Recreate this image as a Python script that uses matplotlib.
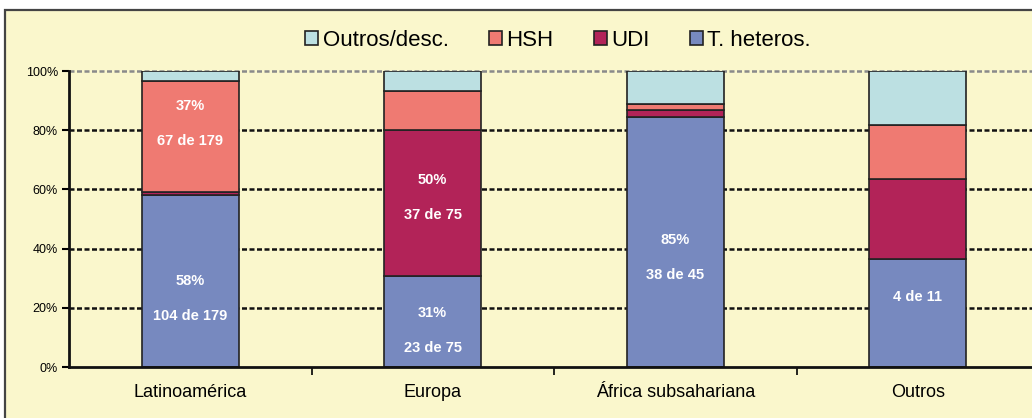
import matplotlib
matplotlib.use('Agg')
from matplotlib import pyplot as plt
from matplotlib import font_manager
from matplotlib.patches import Rectangle
import numpy as np

# Data (counts per region, from the labels in the chart)
regions = ['Latinoamérica', 'Europa', 'África subsahariana', 'Outros']
totals = [179, 75, 45, 11]
hetero = [104, 23, 38, 4]
udi = [2, 37, 1, 3]
hsh = [67, 10, 1, 2]
outros_desc = [6, 5, 5, 2]

series_names = ['T. heteros.', 'UDI', 'HSH', 'Outros/desc.']
series_colors = ['#7789BF', '#B22358', '#EF7A72', '#BCE0E2']

# labels written inside the bars: (region index, lines)
bar_labels = [
    (0, ['58%', '104 de 179']),
    (0, ['37%', '67 de 179']),
    (1, ['31%', '23 de 75']),
    (1, ['50%', '37 de 75']),
    (2, ['85%', '38 de 45']),
    (3, ['4 de 11']),
]
# where those labels sit (in % units, centre of the text block)
label_y = [23.0, 82.3, 12.2, 57.4, 37.0, 23.6]

bg = '#FAF7CC'


def pick_font(names):
    have = set(f.name for f in font_manager.fontManager.ttflist)
    for n in names:
        if n in have:
            return n
    return 'DejaVu Sans'


narrow = pick_font(['Liberation Sans Narrow', 'Arial Narrow', 'Liberation Sans'])
plain = pick_font(['Liberation Sans', 'Arial'])
plt.rcParams['font.family'] = [narrow, 'DejaVu Sans']

fig = plt.figure(figsize=(10.32, 4.18), dpi=100)
fig.patch.set_facecolor('white')

# chart frame (cropped on the right and bottom)
frame = Rectangle((5 / 1032, -0.1), 1.2, 1.1 - 10 / 418, transform=fig.transFigure,
                  facecolor=bg, edgecolor='#444444', linewidth=1.6, zorder=-5)
fig.patches.append(frame)

W, H = 1032, 418
ax = fig.add_axes([69 / W, (H - 367) / H, 4 * 242.5 / W, (367 - 71) / H])
ax.set_facecolor(bg)
ax.set_zorder(2)

series = [hetero, udi, hsh, outros_desc]
x = np.arange(len(regions))
pct = [np.array(s) / np.array(totals) * 100 for s in series]
bottom = np.zeros(len(regions))
for vals, color, name in zip(pct, series_colors, series_names):
    ax.bar(x, vals, bottom=bottom, width=0.4, color=color, edgecolor='#222222',
           linewidth=1.2, label=name, zorder=3)
    bottom += vals

# labels inside bars
for (ri, lines), yc in zip(bar_labels, label_y):
    offs = [5.9, -5.9] if len(lines) == 2 else [0]
    for line, off in zip(lines, offs):
        ax.text(x[ri], yc + off, line, ha='center', va='center', color='white',
                fontsize=10.5, fontweight='bold', zorder=4)

ax.set_xlim(-0.5, len(regions) - 0.5)
ax.set_ylim(0, 100)

# gridlines
for yv in [20, 40, 60, 80]:
    ax.axhline(yv, color='#111111', linestyle=(0, (2, 1)), linewidth=1.8, zorder=1)
ax.axhline(100, color='#8a8a8a', linestyle=(0, (2, 1)), linewidth=1.8, zorder=1, clip_on=False)

ax.set_yticks([0, 20, 40, 60, 80, 100])
ax.set_yticklabels(['0%', '20%', '40%', '60%', '80%', '100%'], fontsize=9)
ax.set_xticks(x)
ax.set_xticklabels(regions, fontsize=13, family=[plain, 'DejaVu Sans'])
ax.set_xticks(np.arange(0.5, len(regions) - 0.5, 1), minor=True)
ax.tick_params(axis='x', which='major', length=0, pad=12)
ax.tick_params(axis='x', which='minor', length=6, width=1.2, direction='out')
ax.tick_params(axis='y', length=5, width=1.5, direction='out', pad=3)

for s in ['top', 'right']:
    ax.spines[s].set_visible(False)
for s in ['left', 'bottom']:
    ax.spines[s].set_linewidth(2)
    ax.spines[s].set_color('#111111')
    ax.spines[s].set_zorder(5)

# legend (reversed order, like the original)
handles, labels = ax.get_legend_handles_labels()
leg = fig.legend(handles[::-1], labels[::-1], loc='center', bbox_to_anchor=(558 / W, 1 - 40 / H),
                 ncol=4, frameon=False, fontsize=16, handlelength=0.6, handleheight=0.6,
                 handletextpad=0.2, columnspacing=1.8)

fig.savefig('out.png', dpi=100, facecolor=fig.get_facecolor())
